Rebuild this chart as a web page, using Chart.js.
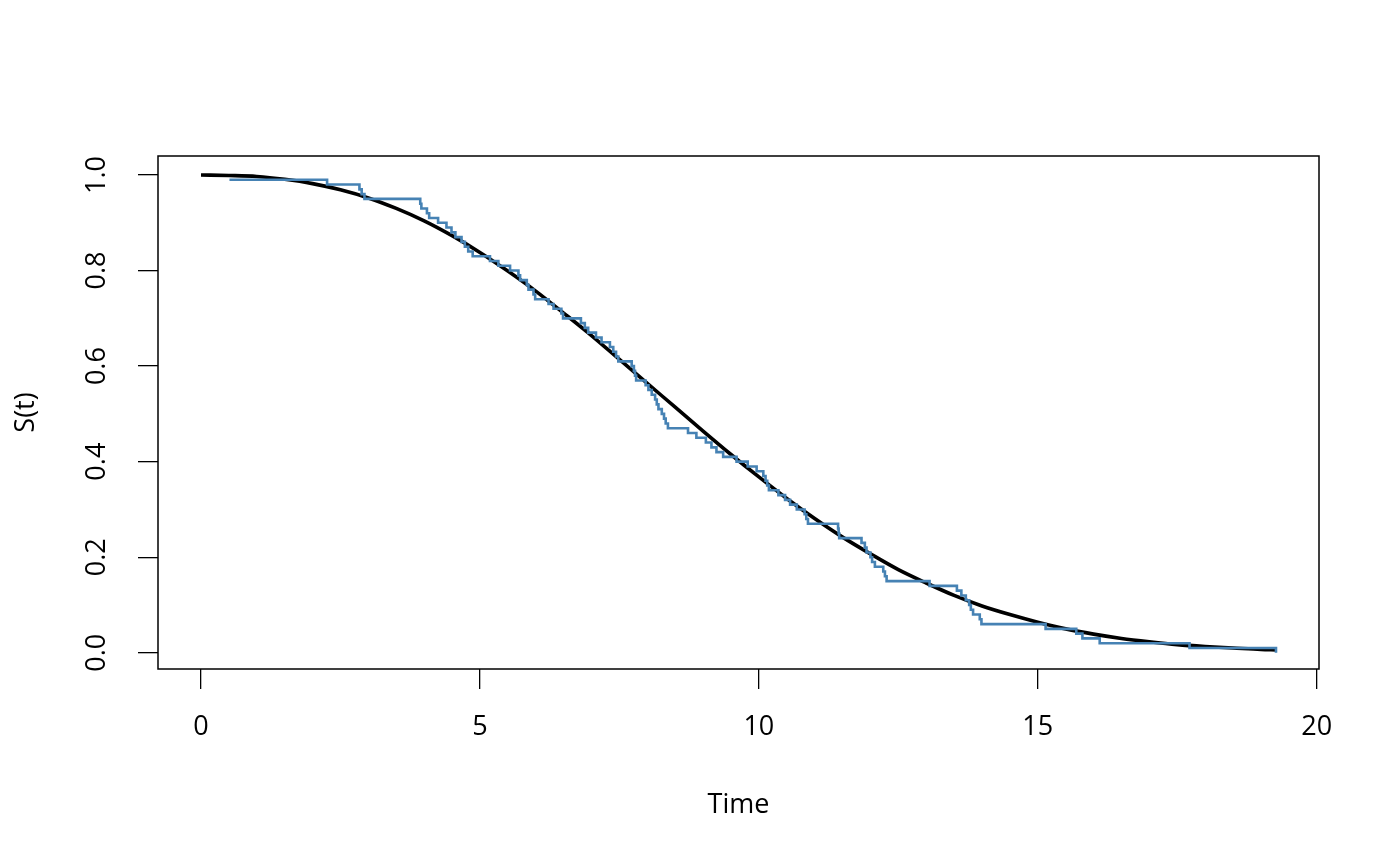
<!DOCTYPE html>
<html><head><meta charset="utf-8">
<script src="https://cdn.jsdelivr.net/npm/chart.js@4.4.1/dist/chart.umd.min.js"></script>
<style>html,body{margin:0;padding:0;background:#fff;}#wrap{width:1400px;height:866px;}</style>
</head><body><div id="wrap"><canvas id="c" width="1400" height="866"></canvas></div>
<script>
// Kaplan-Meier step estimate (time of drop, survival after drop)
const kmTime = [0.51, 2.26, 2.84, 2.88, 2.93, 3.93, 3.95, 4.05, 4.09, 4.25,
  4.40, 4.49, 4.56, 4.67, 4.73, 4.79, 4.87, 5.18, 5.33, 5.54,
  5.69, 5.72, 5.84, 5.87, 5.96, 5.99, 6.23, 6.32, 6.46, 6.49,
  6.81, 6.88, 6.94, 7.08, 7.18, 7.33, 7.39, 7.44, 7.48, 7.72,
  7.76, 7.78, 7.80, 7.97, 8.02, 8.08, 8.14, 8.17, 8.20, 8.26,
  8.30, 8.33, 8.37, 8.73, 8.88, 9.05, 9.15, 9.24, 9.36, 9.60,
  9.80, 9.96, 10.08, 10.12, 10.15, 10.18, 10.35, 10.47, 10.56, 10.68,
  10.82, 10.85, 10.88, 11.42, 11.43, 11.44, 11.84, 11.90, 11.93, 12.00,
  12.03, 12.08, 12.23, 12.26, 12.29, 13.06, 13.55, 13.63, 13.71, 13.77,
  13.80, 13.84, 13.96, 13.99, 15.14, 15.69, 15.80, 16.11, 17.72, 19.27];
const kmSurv = [0.99, 0.98, 0.97, 0.96, 0.95, 0.94, 0.93, 0.92, 0.91, 0.90,
  0.89, 0.88, 0.87, 0.86, 0.85, 0.84, 0.83, 0.82, 0.81, 0.80,
  0.79, 0.78, 0.77, 0.76, 0.75, 0.74, 0.73, 0.72, 0.71, 0.70,
  0.69, 0.68, 0.67, 0.66, 0.65, 0.64, 0.63, 0.62, 0.61, 0.60,
  0.59, 0.58, 0.57, 0.56, 0.55, 0.54, 0.53, 0.52, 0.51, 0.50,
  0.49, 0.48, 0.47, 0.46, 0.45, 0.44, 0.43, 0.42, 0.41, 0.40,
  0.39, 0.38, 0.37, 0.36, 0.35, 0.34, 0.33, 0.32, 0.31, 0.30,
  0.29, 0.28, 0.27, 0.26, 0.25, 0.24, 0.23, 0.22, 0.21, 0.20,
  0.19, 0.18, 0.17, 0.16, 0.15, 0.14, 0.13, 0.12, 0.11, 0.10,
  0.09, 0.08, 0.07, 0.06, 0.05, 0.04, 0.03, 0.02, 0.01, 0.00];
// Smooth parametric survival curve
const curveTime = [0, 0.5, 1, 1.5, 2, 2.5, 3, 3.5, 4, 4.5, 5, 5.5, 6, 6.5, 7, 7.5, 8, 8.5, 9, 9.5,
  10, 10.5, 11, 11.5, 12, 12.5, 13, 13.5, 14, 14.5, 15, 15.5, 16, 16.5, 17, 17.5, 18, 18.5, 19, 19.27];
const curveSurv = [1.000, 0.999, 0.997, 0.991, 0.982, 0.969, 0.952, 0.930, 0.904, 0.873,
  0.838, 0.799, 0.757, 0.711, 0.664, 0.614, 0.564, 0.514, 0.464, 0.415,
  0.368, 0.323, 0.281, 0.242, 0.207, 0.174, 0.146, 0.120, 0.098, 0.080,
  0.064, 0.050, 0.039, 0.030, 0.023, 0.017, 0.013, 0.010, 0.007, 0.006];
const xTicks = [0, 5, 10, 15, 20];
const xTickLabels = ['0', '5', '10', '15', '20'];
const yTicks = [0, 0.2, 0.4, 0.6, 0.8, 1.0];
const yTickLabels = ['0.0', '0.2', '0.4', '0.6', '0.8', '1.0'];
const xLabel = 'Time';
const yLabel = 'S(t)';

const FONT = 'Open Sans';
const boxPlugin = {
  id: 'box',
  afterDraw(chart) {
    const a = chart.chartArea, c = chart.ctx;
    c.save();
    c.strokeStyle = '#000';
    c.lineWidth = 1.5;
    c.strokeRect(a.left, a.top, a.right - a.left, a.bottom - a.top);
    c.restore();
  }
};

new Chart(document.getElementById('c'), {
  type: 'line',
  data: {
    datasets: [
      { label: 'KM', data: kmTime.map((t, i) => ({x: t, y: kmSurv[i]})),
        borderColor: '#4682B4', borderWidth: 2.6, stepped: 'before', pointRadius: 0, fill: false },
      { label: 'Model', data: curveTime.map((t, i) => ({x: t, y: curveSurv[i]})),
        borderColor: '#000000', borderWidth: 3.6, cubicInterpolationMode: 'monotone', pointRadius: 0, fill: false }
    ]
  },
  options: {
    responsive: false, animation: false, devicePixelRatio: 1,
    layout: { padding: { top: 156, right: 81, left: 0, bottom: 0 } },
    plugins: { legend: { display: false }, tooltip: { enabled: false } },
    scales: {
      x: {
        type: 'linear', min: -0.771, max: 20.041,
        afterBuildTicks: s => { s.ticks = xTicks.map(v => ({ value: v })); },
        afterFit: s => { s.height = 197; },
        grid: { display: true, drawOnChartArea: false, drawTicks: true, tickLength: 20, color: '#000', lineWidth: 1.3 },
        border: { display: false },
        ticks: { color: '#000', font: { family: FONT, size: 27 }, padding: 22, maxRotation: 0, minRotation: 0,
          callback: (v) => xTickLabels[xTicks.indexOf(v)] },
        title: { display: true, text: xLabel, color: '#000', font: { family: FONT, size: 27 }, padding: { top: 44, bottom: 44 } }
      },
      y: {
        type: 'linear', min: -0.034, max: 1.0398,
        afterBuildTicks: s => { s.ticks = yTicks.map(v => ({ value: v })); },
        afterFit: s => { s.width = 158; },
        grid: { display: true, drawOnChartArea: false, drawTicks: true, tickLength: 20, color: '#000', lineWidth: 1.3 },
        border: { display: false },
        ticks: { color: '#000', font: { family: FONT, size: 27 }, padding: 22, minRotation: 90, maxRotation: 90, crossAlign: 'center',
          callback: (v) => yTickLabels[yTicks.indexOf(v)] },
        title: { display: true, text: yLabel, color: '#000', font: { family: FONT, size: 27 }, padding: { top: 10, bottom: 10 } }
      }
    }
  },
  plugins: [boxPlugin]
});
</script>
</body></html>
